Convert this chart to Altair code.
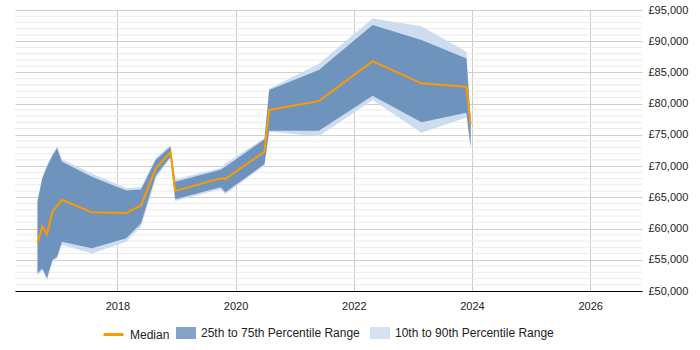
import altair as alt
import pandas as pd

# Observation dates
dates = [
    "2016-08-25", "2016-09-24", "2016-10-23", "2016-11-25", "2016-12-24",
    "2017-01-23", "2017-07-27", "2018-02-24", "2018-05-27", "2018-08-26",
    "2018-11-25", "2018-12-24", "2019-10-01", "2019-10-30", "2020-06-28",
    "2020-07-27", "2021-05-30", "2022-04-27", "2023-02-23", "2023-11-28",
    "2023-12-24",
]

median = [57700, 60300, 59100, 62700, 63600, 64600, 62600, 62500, 63700, 69650,
          72200, 66000, 68050, 67950, 72300, 79000, 80400, 86800, 83250, 82700,
          76700]
p25 = [52840, 53600, 52030, 54970, 55500, 57900, 56840, 58440, 60850, 68500,
       71500, 64700, 66600, 65800, 70340, 75670, 75670, 81280, 77010, 78550,
       73100]
p75 = [64300, 68050, 69900, 71600, 72850, 70700, 68300, 66100, 66250, 71000,
       73100, 67500, 69400, 69900, 74300, 82200, 85400, 92600, 90200, 87250,
       77500]
p10 = [52500, 53300, 51800, 54700, 55200, 57400, 56000, 57900, 60300, 68000,
       71300, 64400, 66300, 65500, 70100, 75500, 74800, 80600, 75350, 77800,
       72800]
p90 = [64500, 68300, 70200, 71900, 73200, 71100, 68800, 66500, 66600, 71300,
       73400, 67900, 69700, 70400, 74500, 82400, 86400, 93650, 92400, 88300,
       77800]

year_ticks = ["2018-01-01", "2020-01-01", "2022-01-01", "2024-01-01", "2026-01-01"]
salary_ticks = list(range(50000, 95001, 5000))
minor_salary_ticks = [v for v in range(50000, 95001, 1000) if v % 5000 != 0]

MEDIAN_LABEL = "Median"
IQR_LABEL = "25th to 75th Percentile Range"
P1090_LABEL = "10th to 90th Percentile Range"

df = pd.DataFrame({
    "date": pd.to_datetime(dates),
    "median": median,
    "p25": p25,
    "p75": p75,
    "p10": p10,
    "p90": p90,
})
minor_df = pd.DataFrame({"level": minor_salary_ticks})

FONT = "Liberation Sans"
TEXT = "#222222"

x_axis = alt.Axis(
    title=None,
    values=[pd.Timestamp(v).isoformat() for v in year_ticks],
    format="%Y",
    grid=True,
    gridColor="#cccccc",
    domainColor="#000000",
    domainWidth=1,
    ticks=False,
    labelPadding=9,
    labelFontSize=11,
    labelColor=TEXT,
    labelFont=FONT,
)
x_scale = alt.Scale(domain=["2016-04-08", "2026-11-17"])

y_scale = alt.Scale(domain=[50000, 95000], nice=False, zero=False)

y_axis = alt.Axis(
    title=None,
    orient="right",
    values=salary_ticks,
    labelExpr="'£' + format(datum.value, ',')",
    labelOverlap=False,
    labelBound=False,
    grid=True,
    gridColor="#cfcfcf",
    domain=False,
    ticks=False,
    labelPadding=6,
    labelFontSize=11,
    labelColor=TEXT,
    labelFont=FONT,
)

# light horizontal guides every £1,000
minor_grid = alt.Chart(minor_df).mark_rule(color="#ebebeb", strokeWidth=1).encode(
    y=alt.Y("level:Q", scale=y_scale, axis=None),
)

fill_scale = alt.Scale(domain=[IQR_LABEL, P1090_LABEL], range=["#6e93bd", "#cddcee"])
fill_legend = alt.Legend(
    title=None,
    orient="none",
    legendX=161,
    legendY=313,
    direction="horizontal",
    symbolType="M-1,-0.6H1V0.6H-1Z",
    symbolSize=400,
    symbolStrokeWidth=0,
    symbolOpacity=0.85,
    labelFontSize=12,
    labelFont=FONT,
    labelColor=TEXT,
    labelOffset=5,
    columnPadding=10,
)

median_scale = alt.Scale(domain=[MEDIAN_LABEL], range=["#ff9900"])
median_legend = alt.Legend(
    title=None,
    orient="none",
    legendX=87,
    legendY=313,
    direction="horizontal",
    symbolType="stroke",
    symbolSize=400,
    symbolStrokeWidth=3,
    labelFontSize=12,
    labelFont=FONT,
    labelColor=TEXT,
    labelOffset=5,
)

base = alt.Chart(df)

outer = base.transform_calculate(band=f"'{P1090_LABEL}'").mark_area(opacity=1).encode(
    x=alt.X("date:T", scale=x_scale, axis=x_axis),
    y=alt.Y("p10:Q", scale=y_scale, axis=y_axis),
    y2="p90:Q",
    fill=alt.Fill("band:N", scale=fill_scale, legend=fill_legend),
)

inner = base.transform_calculate(band=f"'{IQR_LABEL}'").mark_area(opacity=1).encode(
    x=alt.X("date:T", scale=x_scale, axis=None),
    y=alt.Y("p25:Q", scale=y_scale, axis=None),
    y2="p75:Q",
    fill=alt.Fill("band:N", scale=fill_scale, legend=fill_legend),
)

line = base.transform_calculate(series=f"'{MEDIAN_LABEL}'").mark_line(strokeWidth=2).encode(
    x=alt.X("date:T", scale=x_scale, axis=None),
    y=alt.Y("median:Q", scale=y_scale, axis=None),
    color=alt.Color("series:N", scale=median_scale, legend=median_legend),
)

chart = (
    alt.layer(minor_grid, outer, inner, line)
    .resolve_axis(x="independent", y="independent")
    .properties(
        width=627,
        height=281,
        padding={"left": 14, "top": 4, "right": 5, "bottom": 5},
        background="#ffffff",
    )
    .configure_view(stroke=None)
)

chart.save("out.html", embed_options={"renderer": "svg", "actions": False})
